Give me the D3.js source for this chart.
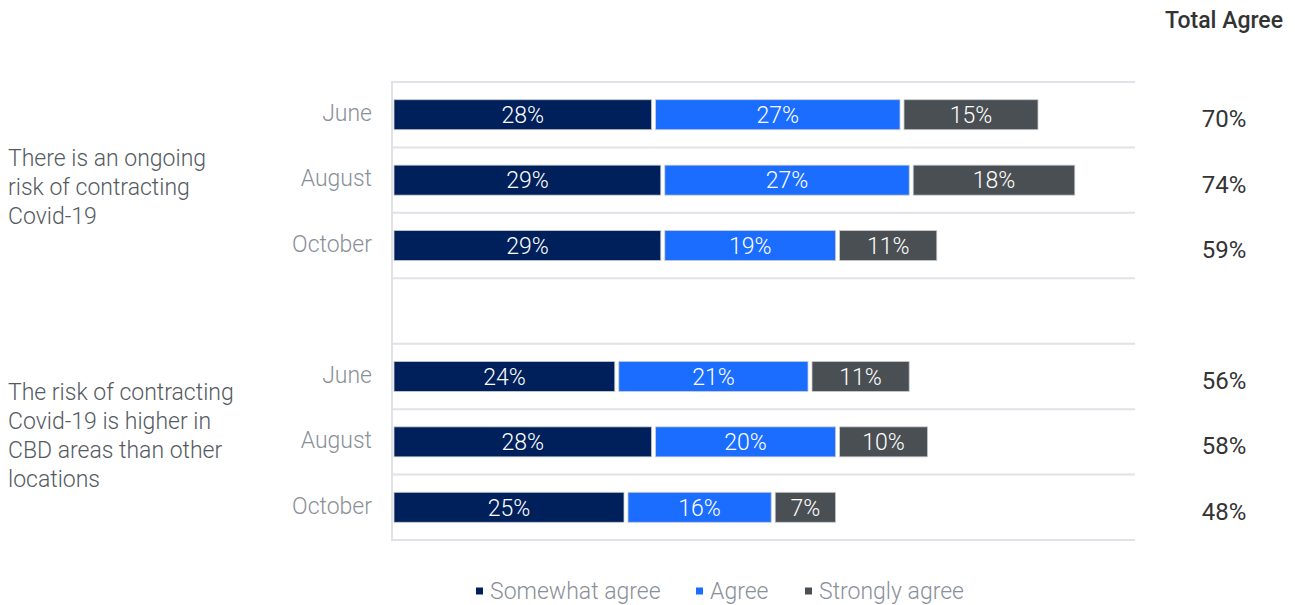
<!DOCTYPE html>
<html>
<head>
<meta charset="utf-8">
<script src="https://cdn.jsdelivr.net/npm/d3@7"></script>
<style>
  html, body { margin: 0; padding: 0; background: #fff; }
  svg { display: block; font-family: Roboto, "Noto Sans", sans-serif; }
</style>
</head>
<body>
<svg id="chart" width="1295" height="605"></svg>
<script>
// Survey results: agreement with two statements about Covid-19 risk, by wave
const statements = [
  "There is an ongoing risk of contracting Covid-19",
  "The risk of contracting Covid-19 is higher in CBD areas than other locations"
];
const statementLines = [
  ["There is an ongoing", "risk of contracting", "Covid-19"],
  ["The risk of contracting", "Covid-19 is higher in", "CBD areas than other", "locations"]
];
const months = ["June", "August", "October"];
const seriesNames = ["Somewhat agree", "Agree", "Strongly agree"];
const somewhatAgree = [28, 29, 29, 24, 28, 25];
const agree         = [27, 27, 19, 21, 20, 16];
const stronglyAgree = [15, 18, 11, 11, 10, 7];
const totalAgree    = [70, 74, 59, 56, 58, 48];
const colors = ["#00205b", "#1a6dff", "#4a4f53"];

// rows: three months per statement, with a spacer row between the two statements
const rows = [];
statements.forEach((s, si) => {
  months.forEach((m, mi) => {
    const i = si * 3 + mi;
    rows.push({ key: `${si}-${m}`, month: m, statement: si,
      values: [somewhatAgree[i], agree[i], stronglyAgree[i]], total: totalAgree[i] });
  });
  if (si === 0) rows.push({ key: "spacer", spacer: true });
});

const svg = d3.select("#chart");
const x = d3.scaleLinear().domain([0, 80]).range([394, 1130]);
const y = d3.scaleBand().domain(rows.map(r => r.key)).range([82, 540]).padding(0);
const barH = 30;
const gap = 4;

// grid: horizontal row separators and left baseline
const gridYs = [y.range()[0], ...rows.map(r => y(r.key) + y.bandwidth())];
svg.append("g").selectAll("line").data(gridYs).join("line")
  .attr("x1", 392).attr("x2", 1135)
  .attr("y1", d => d).attr("y2", d => d)
  .attr("stroke", "#dfe2e6").attr("stroke-width", 2);
svg.append("line")
  .attr("x1", 392).attr("x2", 392).attr("y1", 81).attr("y2", 541)
  .attr("stroke", "#dfe2e6").attr("stroke-width", 2);

// stacked segments (each later segment leaves a small gap on its left)
const dataRows = rows.filter(r => !r.spacer);
const seg = [];
dataRows.forEach(r => {
  let acc = 0;
  r.values.forEach((v, k) => { seg.push({ row: r, k, v, x0: acc, x1: acc + v }); acc += v; });
});
const segG = svg.append("g").selectAll("g").data(seg).join("g");
segG.append("rect")
  .attr("x", d => x(d.x0) + (d.k === 0 ? 0 : gap))
  .attr("width", d => x(d.x1) - x(d.x0) - (d.k === 0 ? 0 : gap))
  .attr("y", d => y(d.row.key) + y.bandwidth() / 2 - barH / 2)
  .attr("height", barH)
  .attr("fill", d => colors[d.k])
  .attr("stroke", "#c9ccd0").attr("stroke-width", 0.8);
segG.append("text")
  .attr("x", d => (x(d.x0) + (d.k === 0 ? 0 : gap) + x(d.x1)) / 2)
  .attr("y", d => y(d.row.key) + y.bandwidth() / 2)
  .attr("dy", "0.36em")
  .attr("text-anchor", "middle")
  .attr("fill", "#fff")
  .attr("font-size", 23).attr("font-weight", 300)
  .text(d => d.v + "%");

// month labels
svg.append("g").selectAll("text").data(dataRows).join("text")
  .attr("x", 372)
  .attr("y", r => y(r.key) + y.bandwidth() / 2 - 2)
  .attr("dy", "0.36em")
  .attr("text-anchor", "end")
  .attr("fill", "#8a9098")
  .attr("font-size", 23).attr("font-weight", 300)
  .text(r => r.month);

// totals column
svg.append("text")
  .attr("x", 1224).attr("y", 28)
  .attr("text-anchor", "middle")
  .attr("fill", "#333")
  .attr("font-size", 23).attr("font-weight", 500)
  .text("Total Agree");
svg.append("g").selectAll("text").data(dataRows).join("text")
  .attr("x", 1224)
  .attr("y", r => y(r.key) + y.bandwidth() / 2 + 4)
  .attr("dy", "0.36em")
  .attr("text-anchor", "middle")
  .attr("fill", "#333")
  .attr("font-size", 24).attr("font-weight", 400)
  .text(r => r.total + "%");

// statement labels
const stTop = [158, 392];
statementLines.forEach((lines, si) => {
  const t = svg.append("text")
    .attr("x", 8).attr("y", stTop[si])
    .attr("fill", "#555a5f")
    .attr("font-size", 23).attr("font-weight", 300);
  lines.forEach((ln, li) => {
    t.append("tspan").attr("x", 8).attr("y", stTop[si] + li * 29).attr("dy", "0.36em").text(ln);
  });
});

// legend
const legendX = [476, 696, 805];
const lg = svg.append("g").selectAll("g").data(seriesNames).join("g")
  .attr("transform", (d, i) => `translate(${legendX[i]},591)`);
lg.append("rect").attr("x", 0).attr("y", -3.5).attr("width", 7).attr("height", 7)
  .attr("fill", (d, i) => colors[i]);
lg.append("text").attr("x", 14).attr("dy", "0.36em")
  .attr("fill", "#8a9098").attr("font-size", 23).attr("font-weight", 300)
  .text(d => d);
</script>
</body>
</html>
